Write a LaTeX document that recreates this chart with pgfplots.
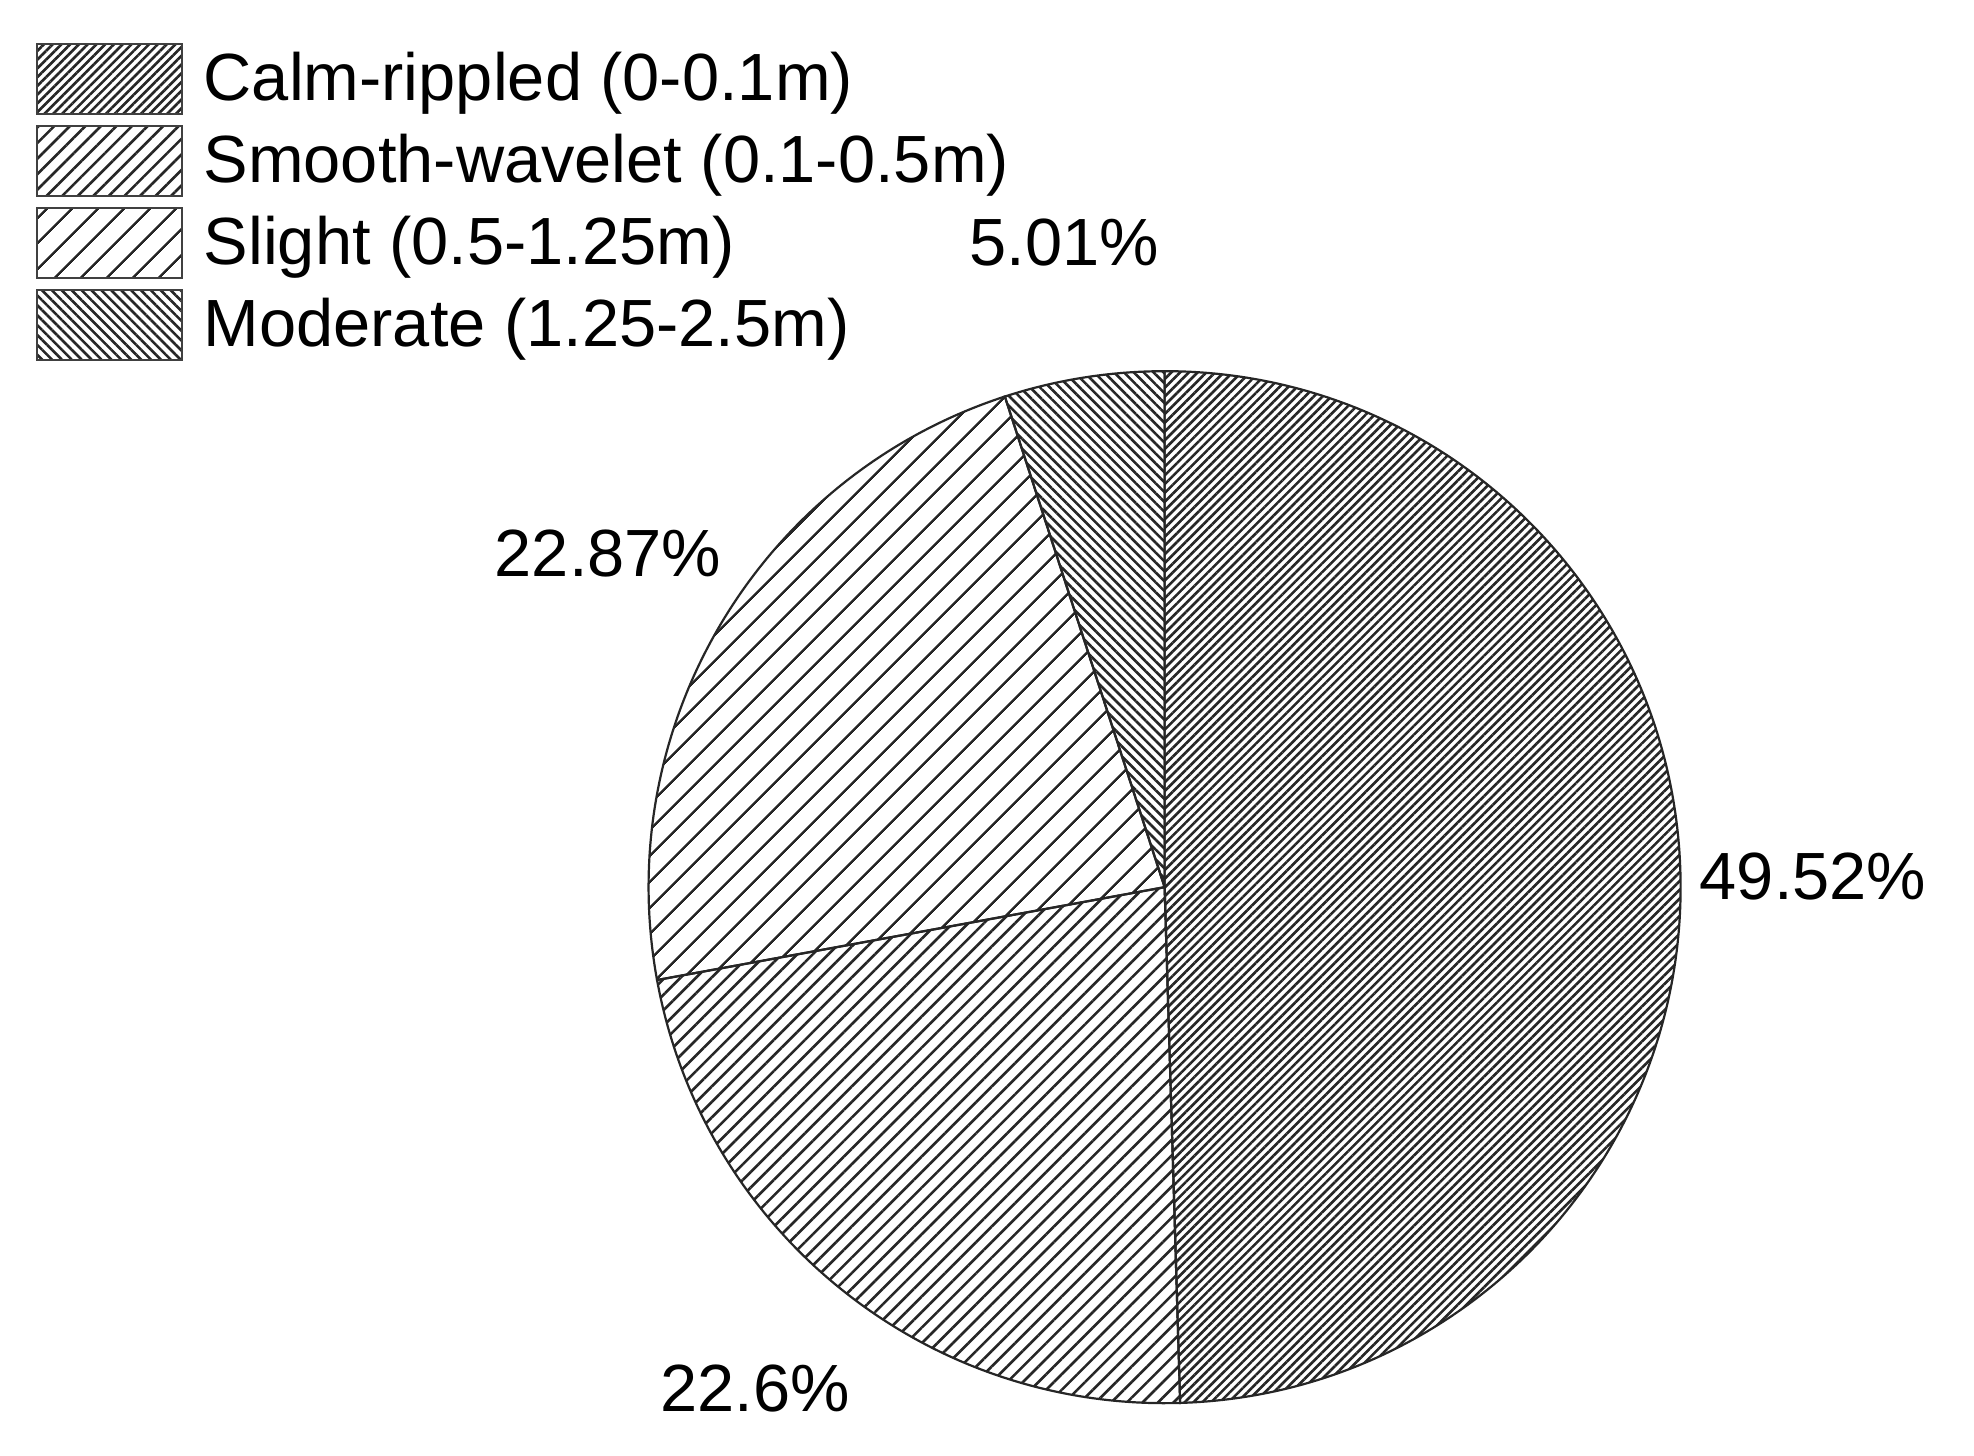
\documentclass[border=0pt]{standalone}
\usepackage{fontspec}
\setmainfont{Liberation Sans}
\usepackage{pgfplots}
\usepackage{pgfplotstable}
\pgfplotsset{compat=1.18}
\usetikzlibrary{patterns.meta}

% share of each sea state, clockwise from 12 o'clock
\pgfplotstableread{
state value
calm 49.52
smooth 22.6
slight 22.87
moderate 5.01
}\piedata

\tikzset{
  slice0/.style={pattern={Lines[angle=45,distance=0.62mm,line width=0.26mm]},pattern color=black!85},
  slice1/.style={pattern={Lines[angle=45,distance=1.1mm,line width=0.26mm]},pattern color=black!85},
  slice2/.style={pattern={Lines[angle=45,distance=1.9mm,line width=0.26mm]},pattern color=black!85},
  slice3/.style={pattern={Lines[angle=-45,distance=0.7mm,line width=0.26mm]},pattern color=black!85},
  pielabel/.style={font=\fontsize{19}{23}\selectfont, inner sep=0pt},
}
\newcommand{\piefont}{\fontsize{19}{23}\selectfont}

\begin{document}
\begin{tikzpicture}
% start and end angle of every slice
\gdef\piestart{90}
\foreach \i in {0,...,3}{
  \pgfplotstablegetelem{\i}{value}\of\piedata
  \pgfmathsetmacro\pieend{\piestart-3.6*\pgfplotsretval}
  \expandafter\xdef\csname pa\i\endcsname{\piestart}
  \expandafter\xdef\csname pb\i\endcsname{\pieend}
  \xdef\piestart{\pieend}
}
\begin{axis}[
    hide axis,
    scale only axis,
    width=197.4mm, height=145.6mm,
    xmin=0, xmax=1974, ymin=0, ymax=1456,
    clip=false,
    legend cell align=left,
    legend style={draw=none, fill=none, at={(axis cs:35,1414)}, anchor=north west,
      inner sep=0pt, row sep=1.0mm, column sep=2.1mm,
      font=\piefont, nodes={inner sep=0pt}},
    legend image code/.code={\draw[#1, draw=black!75, line width=0.2mm] (0mm,-3.5mm) rectangle (14.5mm,3.5mm);},
]
\addplot[draw=none, forget plot] coordinates {(0,0) (1974,1456)};
\addlegendimage{slice0}
\addlegendentry{Calm-rippled (0-0.1m)}
\addlegendimage{slice1}
\addlegendentry{Smooth-wavelet (0.1-0.5m)}
\addlegendimage{slice2}
\addlegendentry{Slight (0.5-1.25m)}
\addlegendimage{slice3}
\addlegendentry{Moderate (1.25-2.5m)}

\pgfplotsinvokeforeach{0,...,3}{
  \draw[slice#1, draw=black!85, line width=0.22mm]
    (axis cs:1164.6,568.8) -- ++(\csname pa#1\endcsname:51.6mm)
    arc[start angle=\csname pa#1\endcsname, end angle=\csname pb#1\endcsname, radius=51.6mm] -- cycle;
}

\node[pielabel] at (axis cs:1813,579) {49.52\%};
\node[pielabel] at (axis cs:755,67) {22.6\%};
\node[pielabel] at (axis cs:608,902) {22.87\%};
\node[pielabel] at (axis cs:1064,1213) {5.01\%};
\end{axis}
\end{tikzpicture}
\end{document}
